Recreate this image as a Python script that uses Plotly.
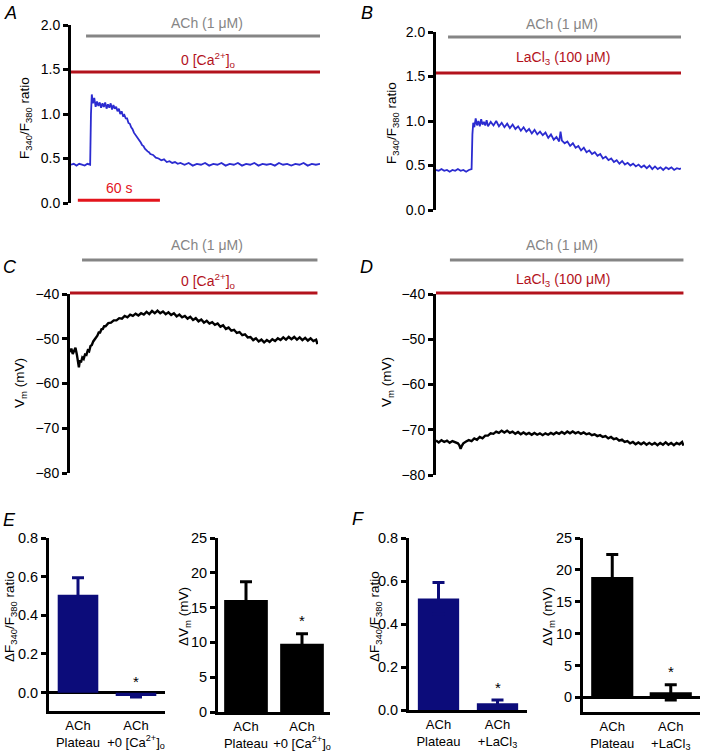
import plotly.graph_objects as go

W, H = 702, 752
FONT = "Liberation Sans, Arial, Helvetica, sans-serif"
BLUE = "#2b2bd0"
NAVY = "#0c0c7a"
GRAY = "#858585"
DARKRED = "#b3121c"
RED = "#e3141c"

# ---------------- data ----------------
# A: F340/F380 ratio, ACh in 0 [Ca2+]o (time in s)
a_t = [0, 2, 4, 6, 8, 10, 12, 14, 14.6, 15.2, 16, 17, 18, 19, 20, 21, 22, 23, 24, 25,
       26, 27, 28, 29, 30, 31, 32, 33, 34, 35, 36, 37, 38, 39, 40, 41, 42, 43, 44, 45,
       46, 47, 48, 49, 50, 51, 52, 53, 54, 55, 56, 57, 58, 60, 62, 64, 66, 68, 70, 72,
       74, 76, 78, 80, 83, 86, 89, 92, 95, 98, 101, 104, 107, 110, 113, 116, 119, 122,
       125, 128, 131, 134, 137, 140, 143, 146, 149, 152, 155, 158, 161, 164, 167, 170,
       173, 176, 179, 182]
a_ratio = [0.43, 0.44, 0.42, 0.44, 0.43, 0.42, 0.44, 0.43, 1.0, 1.22, 1.12, 1.18, 1.08,
           1.14, 1.09, 1.13, 1.07, 1.12, 1.08, 1.13, 1.06, 1.11, 1.07, 1.12, 1.05, 1.1,
           1.06, 1.08, 1.03, 1.06, 1.0, 1.03, 0.98, 0.99, 0.95, 0.95, 0.9, 0.89, 0.85,
           0.83, 0.79, 0.77, 0.74, 0.72, 0.7, 0.68, 0.65, 0.64, 0.61, 0.6, 0.58, 0.57,
           0.55, 0.54, 0.51, 0.5, 0.48, 0.49, 0.46, 0.47, 0.45, 0.46, 0.44, 0.45, 0.43,
           0.45, 0.42, 0.44, 0.43, 0.45, 0.42, 0.44, 0.43, 0.45, 0.42, 0.44, 0.43, 0.45,
           0.42, 0.44, 0.43, 0.45, 0.42, 0.44, 0.43, 0.44, 0.42, 0.45, 0.43, 0.44, 0.42,
           0.44, 0.43, 0.45, 0.42, 0.44, 0.43, 0.44]

# B: F340/F380 ratio, ACh with LaCl3
b_t = [0, 2, 4, 6, 8, 10, 12, 14, 16, 18, 20, 22, 24, 26, 26.6, 27.2, 28, 29, 30, 31,
       32, 33, 34, 35, 36, 37, 38, 40, 42, 44, 46, 48, 50, 52, 54, 56, 58, 60, 62, 64,
       66, 68, 70, 72, 74, 76, 78, 80, 82, 84, 86, 88, 90, 91, 92, 94, 96, 98, 100,
       102, 104, 106, 108, 110, 112, 114, 116, 118, 120, 122, 124, 126, 128, 130, 132,
       134, 136, 138, 140, 142, 144, 146, 148, 150, 152, 154, 156, 158, 160, 162, 164,
       166, 168, 170, 172, 174, 176, 178, 179]
b_ratio = [0.45, 0.44, 0.46, 0.44, 0.45, 0.43, 0.45, 0.44, 0.46, 0.44, 0.45, 0.43, 0.45,
           0.46, 0.85, 0.98, 0.93, 1.03, 0.95, 1.0, 0.94, 1.02, 0.96, 0.99, 0.95, 1.01,
           0.94, 0.99, 0.95, 1.0, 0.94, 0.98, 0.93, 0.97, 0.92, 0.96, 0.91, 0.94, 0.89,
           0.93, 0.88, 0.91, 0.86, 0.9, 0.85, 0.88, 0.84, 0.87, 0.81, 0.85, 0.79, 0.82,
           0.77, 0.88, 0.78, 0.75, 0.77, 0.72, 0.75, 0.7, 0.72, 0.67, 0.7, 0.65, 0.67,
           0.63, 0.65, 0.61, 0.63, 0.58, 0.6, 0.56, 0.58, 0.54, 0.56, 0.52, 0.55, 0.51,
           0.53, 0.5, 0.52, 0.49, 0.51, 0.48, 0.5, 0.47, 0.5, 0.46, 0.49, 0.46, 0.48,
           0.45, 0.48, 0.46, 0.48, 0.45, 0.47, 0.46, 0.47]

# C: membrane potential (mV), ACh in 0 [Ca2+]o
c_t = [0, 1, 2, 3, 4, 5, 5.8, 6.5, 7.2, 8, 9, 10, 11, 12, 13, 14, 15, 16, 17, 18, 19,
       20, 21, 22, 23, 24, 25, 26, 28, 30, 32, 34, 36, 38, 40, 42, 44, 46, 48, 50, 52,
       54, 56, 58, 60, 62, 64, 66, 68, 70, 72, 74, 76, 78, 80, 82, 84, 86, 88, 90, 92,
       94, 96, 98, 100, 102, 104, 106, 108, 110, 112, 114, 116, 118, 120, 122, 124,
       126, 128, 130, 132, 134, 136, 138, 140, 142, 144, 146, 148, 150, 152, 154, 156,
       158, 160, 162, 164, 166, 168, 170, 172, 174, 176, 178, 180, 181]
c_vm = [-53.0, -52.2, -53.4, -52.5, -52.0, -53.5, -55.0, -56.4, -54.8, -55.3, -54.2,
        -54.5, -53.5, -53.6, -52.6, -52.8, -51.6, -51.4, -50.6, -50.2, -49.6, -49.3,
        -48.6, -48.6, -47.9, -47.8, -47.2, -47.2, -46.5, -46.4, -45.9, -45.9, -45.4,
        -45.5, -44.9, -45.2, -44.6, -44.9, -44.4, -44.8, -44.3, -44.6, -44.0, -44.5,
        -43.8, -44.3, -43.7, -44.3, -43.9, -44.5, -44.1, -44.7, -44.3, -45.0, -44.6,
        -45.2, -44.9, -45.5, -45.1, -45.8, -45.4, -46.1, -45.7, -46.4, -46.0, -46.6,
        -46.3, -46.9, -46.6, -47.3, -47.0, -47.8, -47.5, -48.2, -48.0, -48.7, -48.5,
        -49.2, -49.0, -49.7, -49.6, -50.3, -49.9, -50.6, -50.2, -50.8, -50.3, -50.7,
        -50.1, -50.5, -49.9, -50.3, -49.7, -50.2, -49.6, -50.1, -49.6, -50.2, -49.7,
        -50.3, -49.8, -50.4, -49.9, -50.5, -50.2, -51.2]

# D: membrane potential (mV), ACh with LaCl3
d_t = [0, 2, 4, 6, 8, 10, 12, 14, 16, 17, 18, 19, 20, 22, 24, 26, 28, 30, 32, 34, 36,
       38, 40, 42, 44, 46, 48, 50, 52, 54, 56, 58, 60, 62, 64, 66, 68, 70, 72, 74, 76,
       78, 80, 82, 84, 86, 88, 90, 92, 94, 96, 98, 100, 102, 104, 106, 108, 110, 112,
       114, 116, 118, 120, 122, 124, 126, 128, 130, 132, 134, 136, 138, 140, 142, 144,
       146, 148, 150, 152, 154, 156, 158, 160, 162, 164, 166, 168, 170, 172, 174, 176,
       178, 180, 181]
d_vm = [-72.4, -72.8, -72.3, -72.7, -72.4, -72.9, -72.5, -72.8, -73.0, -73.4, -74.2,
        -73.5, -73.0, -72.6, -72.3, -72.5, -71.9, -72.2, -71.6, -71.9, -71.3, -71.3,
        -70.8, -70.9, -70.4, -70.7, -70.2, -70.6, -70.2, -70.7, -70.4, -70.9, -70.5,
        -71.0, -70.6, -71.0, -70.7, -71.1, -70.7, -71.1, -70.8, -71.2, -70.8, -71.1,
        -70.7, -71.0, -70.6, -70.9, -70.5, -70.9, -70.4, -70.8, -70.4, -70.8, -70.5,
        -70.9, -70.6, -71.0, -70.8, -71.2, -71.0, -71.4, -71.2, -71.6, -71.4, -71.9,
        -71.6, -72.1, -71.9, -72.4, -72.2, -72.7, -72.5, -73.0, -72.7, -73.2, -72.8,
        -73.2, -72.8, -73.3, -72.9, -73.3, -72.9, -73.4, -72.9, -73.3, -72.8, -73.3,
        -72.9, -73.4, -72.9, -73.2, -72.7, -73.5]

# ACh application start (s) and recording length (s), panels A-D
ach_on = [11, 8.8, 8.8, 10.2]
rec_len = [182, 179, 181, 181]
scale_bar_s = [5, 65]

# E / F summary bars (mean, SEM)
e_cats = ["ACh<br>Plateau", "ACh<br>+0 [Ca<sup>2+</sup>]<sub>o</sub>"]
f_cats = ["ACh<br>Plateau", "ACh<br>+LaCl<sub>3</sub>"]
e_ratio = [0.507, -0.017]
e_ratio_sem = [0.087, 0.006]
e_vm = [16.1, 9.8]
e_vm_sem = [2.6, 1.45]
f_ratio = [0.519, 0.031]
f_ratio_sem = [0.074, 0.015]
f_vm = [18.9, 0.78]
f_vm_sem = [3.5, 1.2]


def fx(p):
    return p / W


def fy(p):
    return 1 - p / H


fig = go.Figure()

yax_style = dict(showline=True, linecolor="black", linewidth=3, ticks="outside",
                 ticklen=5, tickwidth=3, tickcolor="black", showgrid=False, automargin=False,
                 tickfont=dict(size=14, color="black", family=FONT))


def trace_panel(s, t, y, color, lw, xdom, ydom, xmax, yrange, tickvals, ticktext):
    fig.update_layout({
        f"xaxis{s}": dict(domain=[fx(xdom[0]), fx(xdom[1])], range=[0, xmax],
                          visible=False, anchor=f"y{s}", automargin=False),
        f"yaxis{s}": dict(domain=[fy(ydom[1]), fy(ydom[0])], range=yrange,
                          anchor=f"x{s}", tickvals=tickvals, ticktext=ticktext,
                          zeroline=False, **yax_style),
    })
    fig.add_trace(go.Scatter(x=t, y=y, mode="lines", line=dict(color=color, width=lw),
                             xaxis=f"x{s}", yaxis=f"y{s}", showlegend=False,
                             hoverinfo="skip"))


def drug_bars(s, i, gray_py, red_py):
    fig.add_shape(type="line", xref=f"x{s}", yref="paper", x0=ach_on[i], x1=rec_len[i],
                  y0=fy(gray_py), y1=fy(gray_py), line=dict(color=GRAY, width=3))
    fig.add_shape(type="line", xref=f"x{s}", yref="paper", x0=0, x1=rec_len[i],
                  y0=fy(red_py), y1=fy(red_py), line=dict(color=DARKRED, width=3))


ratio_ticks = [0, 0.5, 1.0, 1.5, 2.0]
ratio_text = ["0.0", "0.5", "1.0", "1.5", "2.0"]
vm_ticks = [-80, -70, -60, -50, -40]
vm_text = ["\u221280", "\u221270", "\u221260", "\u221250", "\u221240"]

trace_panel("", a_t, a_ratio, BLUE, 1.8, (71, 320), (25, 203), 182, [0, 2], ratio_ticks, ratio_text)
trace_panel("2", b_t, b_ratio, BLUE, 1.8, (436, 681), (32, 210), 179, [0, 2], ratio_ticks, ratio_text)
trace_panel("3", c_t, c_vm, "black", 2.4, (70, 318), (294, 473), 181.4, [-80, -40], vm_ticks, vm_text)
trace_panel("4", d_t, d_vm, "black", 2.4, (436, 684), (294, 475), 181.4, [-80, -40], vm_ticks, vm_text)

drug_bars("", 0, 36, 72)
drug_bars("2", 1, 37, 73)
drug_bars("3", 2, 260, 293)
drug_bars("4", 3, 260, 293)

# 60 s scale bar
fig.add_trace(go.Scatter(x=scale_bar_s, y=[0.03, 0.03], mode="lines",
                         line=dict(color=RED, width=3), xaxis="x", yaxis="y",
                         showlegend=False, hoverinfo="skip"))


def bar_panel(s, cats, vals, sems, color, xdom, ydom, yrange, tickvals, tickfmt, zero,
              width, star_y):
    fig.update_layout({
        f"xaxis{s}": dict(domain=[fx(xdom[0]), fx(xdom[1])], anchor=f"y{s}", type="category",
                          range=[-0.5, 1.5], showline=True, linecolor="black", linewidth=3,
                          ticks="", showgrid=False, zeroline=False, automargin=False,
                          tickfont=dict(size=13, color="black", family=FONT)),
        f"yaxis{s}": dict(domain=[fy(ydom[1]), fy(ydom[0])], range=yrange, anchor=f"x{s}",
                          tickvals=tickvals, tickformat=tickfmt, zeroline=zero,
                          zerolinecolor="black", zerolinewidth=3,
                          **{**yax_style, "tickfont": dict(size=14.5, color="black", family=FONT)}),
    })
    fig.add_trace(go.Bar(x=cats, y=vals, width=[width, width], marker=dict(color=color, line=dict(width=0)),
                         error_y=dict(type="data", array=sems, color=color, thickness=3, width=6),
                         xaxis=f"x{s}", yaxis=f"y{s}", showlegend=False, hoverinfo="skip"))
    fig.add_annotation(x=cats[1], y=star_y, xref=f"x{s}", yref=f"y{s}", text="*",
                       showarrow=False, font=dict(size=15, color="black", family=FONT))


bar_panel("5", e_cats, e_ratio, e_ratio_sem, NAVY, (49, 165), (538, 711), [-0.095, 0.8],
          [0, 0.2, 0.4, 0.6, 0.8], ".1f", True, 0.7, 0.06)
bar_panel("6", e_cats, e_vm, e_vm_sem, "black", (218, 330), (538, 712), [0, 25],
          [0, 5, 10, 15, 20, 25], "d", False, 0.78, 13.2)
bar_panel("7", f_cats, f_ratio, f_ratio_sem, NAVY, (409, 527), (538, 710), [0, 0.8],
          [0, 0.2, 0.4, 0.6, 0.8], ".1f", False, 0.7, 0.105)
bar_panel("8", f_cats, f_vm, f_vm_sem, "black", (583, 700), (538, 712), [-2.3, 25],
          [0, 5, 10, 15, 20, 25], "d", True, 0.72, 4.0)


def text(xp, yp, s, color="black", size=14, angle=0):
    fig.add_annotation(x=fx(xp), y=fy(yp), xref="paper", yref="paper", text=s,
                       showarrow=False, textangle=angle, xanchor="center", yanchor="middle",
                       font=dict(size=size, color=color, family=FONT))


ach = "ACh (1 \u03bcM)"
ca0 = "0 [Ca<sup>2+</sup>]<sub>o</sub>"
la = "LaCl<sub>3</sub> (100 \u03bcM)"
text(207, 23, ach, GRAY)
text(208, 60, ca0, DARKRED)
text(562, 24, ach, GRAY)
text(563, 58, la, DARKRED)
text(207, 245, ach, GRAY)
text(208, 281, ca0, DARKRED)
text(562, 245, ach, GRAY)
text(563, 280, la, DARKRED)
text(119, 188, "60 s", RED)

# y-axis titles
ratio_lbl = "F<sub>340</sub>/F<sub>380</sub> ratio"
vm_lbl = "V<sub>m</sub> (mV)"
text(25, 118, ratio_lbl, size=13.5, angle=-90)
text(392, 123, ratio_lbl, size=13.5, angle=-90)
text(20, 383, vm_lbl, size=13.5, angle=-90)
text(387, 382, vm_lbl, size=13.5, angle=-90)
text(10, 617, "\u0394" + ratio_lbl, size=13.5, angle=-90)
text(184, 617, "\u0394" + vm_lbl, size=13.5, angle=-90)
text(375, 617, "\u0394" + ratio_lbl, size=13.5, angle=-90)
text(548, 617, "\u0394" + vm_lbl, size=13.5, angle=-90)

# panel letters
for letter, xp, yp in [("A", 10, 13), ("B", 367, 13), ("C", 10, 267), ("D", 367, 267),
                       ("E", 9, 520), ("F", 358, 519)]:
    text(xp, yp, f"<i>{letter}</i>", size=18)

fig.update_layout(width=W, height=H, margin=dict(l=0, r=0, t=0, b=0, autoexpand=False),
                  plot_bgcolor="white", paper_bgcolor="white",
                  font=dict(family=FONT, color="black"), showlegend=False)

# the page body has a default 8px margin; drop it so the figure fills the window
fig.write_html("out.html", config={"displayModeBar": False},
               post_script="document.body.style.margin = '0px';")
